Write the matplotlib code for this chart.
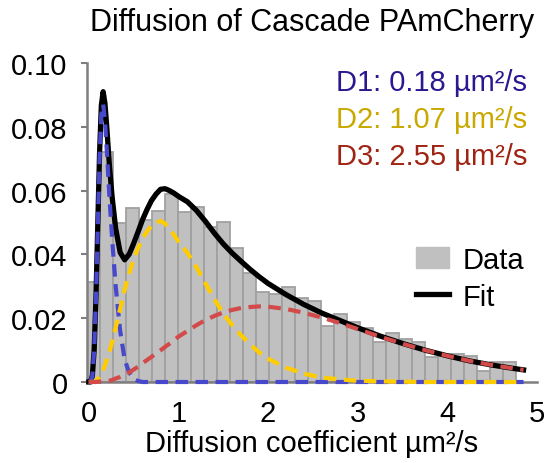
import numpy as np
import matplotlib
matplotlib.use("Agg")
import matplotlib.pyplot as plt
from matplotlib.patches import Patch
from matplotlib.lines import Line2D

plt.rcParams['font.family'] = ['Liberation Sans', 'DejaVu Sans']

# histogram of the diffusion coefficients (fraction per bin)
data_counts = [0.0313, 0.0720, 0.0499, 0.0546, 0.0509, 0.0535, 0.0590, 0.0532,
               0.0549, 0.0485, 0.0502, 0.0421, 0.0343, 0.0282, 0.0275, 0.0299,
               0.0262, 0.0255, 0.0176, 0.0212, 0.0188, 0.0170, 0.0124, 0.0153,
               0.0135, 0.0125, 0.0077, 0.0088, 0.0088, 0.0082, 0.0035, 0.0063,
               0.0063]

# fitted curves
fit_x = [0, 0.02, 0.04, 0.06, 0.08, 0.10, 0.12, 0.14, 0.16, 0.18, 0.20,
         0.23, 0.26, 0.30, 0.35, 0.40, 0.45, 0.50, 0.55, 0.60,
         0.65, 0.70, 0.75, 0.80, 0.85, 0.90, 0.95,
         1.0, 1.1, 1.2, 1.3, 1.4, 1.5, 1.6, 1.7, 1.8, 1.9, 2.0,
         2.2, 2.4, 2.6, 2.8, 3.0, 3.25, 3.5, 3.75, 4.0, 4.25, 4.5, 4.75, 4.85]

fit_total = [0, 0, 0.0020, 0.0101, 0.0264, 0.0490, 0.0717, 0.0867, 0.0910, 0.0874, 0.0801,
             0.0679, 0.0581, 0.0481, 0.0406, 0.0383, 0.0400, 0.0434, 0.0471, 0.0509,
             0.0541, 0.0569, 0.0589, 0.0604, 0.0606, 0.0600, 0.0592,
             0.0582, 0.0565, 0.0538, 0.0504, 0.0467, 0.0433, 0.0404, 0.0378, 0.0353,
             0.0330, 0.0309,
             0.0274, 0.0243, 0.0216, 0.0193, 0.0170, 0.0144, 0.0121, 0.0100, 0.0082,
             0.0066, 0.0053, 0.0042, 0.0038]

d1_curve = [0, 0, 0.002, 0.010, 0.026, 0.048, 0.070, 0.084, 0.087, 0.082, 0.073,
            0.058, 0.045, 0.030, 0.016, 0.007, 0.003, 0.001, 0.0003, 0,
            0, 0, 0, 0, 0, 0, 0,
            0, 0, 0, 0, 0, 0, 0, 0, 0, 0, 0,
            0, 0, 0, 0, 0, 0, 0, 0, 0, 0, 0, 0, 0]

d2_curve = [0, 0, 0, 0.0001, 0.0004, 0.0009, 0.0016, 0.0026, 0.0038, 0.0052, 0.0068,
            0.0095, 0.0125, 0.0170, 0.0230, 0.0290, 0.0340, 0.0385, 0.0420, 0.0450,
            0.0472, 0.0490, 0.0500, 0.0505, 0.0497, 0.0480, 0.0461,
            0.0440, 0.0405, 0.0360, 0.0310, 0.0260, 0.0215, 0.0178, 0.0146, 0.0118,
            0.0093, 0.0073,
            0.0045, 0.0026, 0.0014, 0.0008, 0.0004, 0.0002, 0.0001, 0, 0, 0, 0, 0, 0]

d3_curve = [0, 0, 0, 0, 0, 0.0001, 0.0001, 0.0001, 0.0002, 0.0002, 0.0003,
            0.0004, 0.0006, 0.0011, 0.0016, 0.0023, 0.0030, 0.0039, 0.0048, 0.0059,
            0.0069, 0.0079, 0.0089, 0.0099, 0.0110, 0.0120, 0.0131,
            0.0142, 0.0160, 0.0178, 0.0194, 0.0207, 0.0218, 0.0226, 0.0232, 0.0235,
            0.0237, 0.0236,
            0.0229, 0.0217, 0.0202, 0.0185, 0.0166, 0.0142, 0.0120, 0.0100, 0.0082,
            0.0066, 0.0053, 0.0042, 0.0038]

d_labels = ['D1: 0.18 µm²/s', 'D2: 1.07 µm²/s', 'D3: 2.55 µm²/s']
d_colors = ['#2a1890', '#c9a800', '#a02414']
ytick_vals = [0, 0.02, 0.04, 0.06, 0.08, 0.10]
ytick_labels = ['0', '0.02', '0.04', '0.06', '0.08', '0.10']
xtick_vals = [0, 1, 2, 3, 4, 5]

fig = plt.figure(figsize=(5.46, 4.64), dpi=100)
ax = fig.add_axes([87 / 546, 81 / 464, 450 / 546, 319 / 464])

bin_width = 0.145
bin_left = -0.02 + bin_width * np.arange(len(data_counts))
ax.bar(bin_left, data_counts, width=bin_width, align='edge', color='#c0c0c0',
       edgecolor='#a0a0a0', linewidth=1.3, zorder=1)

ax.plot(fit_x, fit_total, color='black', lw=3.8, zorder=3, clip_on=False,
        solid_joinstyle='round')
ax.plot(fit_x, d1_curve, color='#4848cc', lw=3, dashes=(3, 1.8), zorder=4, clip_on=False)
ax.plot(fit_x, d2_curve, color='#ffcc00', lw=3, dashes=(3, 1.8), zorder=5, clip_on=False)
ax.plot(fit_x, d3_curve, color='#d24a4a', lw=3, dashes=(3, 1.8), zorder=6, clip_on=False)

ax.set_xlim(-0.02, 5.0)
ax.set_ylim(0, 0.10)
ax.set_xticks(xtick_vals)
ax.set_yticks(ytick_vals)
ax.set_yticklabels(ytick_labels)
ax.tick_params(axis='y', length=4, width=1.5, color='#7f7f7f', pad=10, labelsize=21)
ax.tick_params(axis='x', length=0, pad=12, labelsize=21)
for side in ['top', 'right']:
    ax.spines[side].set_visible(False)
for side in ['left', 'bottom']:
    ax.spines[side].set_color('#7f7f7f')
    ax.spines[side].set_linewidth(1.8)
    ax.spines[side].set_zorder(2)

ax.set_title('Diffusion of Cascade PAmCherry', fontsize=22, pad=24)
ax.set_xlabel('Diffusion coefficient µm²/s', fontsize=21, labelpad=2)

# component labels
label_y = [0.916, 0.798, 0.683]
for txt, col, yy in zip(d_labels, d_colors, label_y):
    ax.text(0.978, yy, txt, color=col, fontsize=21, ha='right', va='baseline',
            transform=ax.transAxes)

handles = [Patch(facecolor='#c0c0c0', edgecolor='#c0c0c0', label='Data'),
           Line2D([], [], color='black', lw=3.8, label='Fit')]
ax.legend(handles=handles, loc='upper left', bbox_to_anchor=(416 / 546, 1 - 247 / 464),
          bbox_transform=fig.transFigure, frameon=False, fontsize=21, borderpad=0,
          handlelength=1.14, handleheight=0.74, handletextpad=0.45, labelspacing=0.3,
          borderaxespad=0)

fig.savefig('out.png', dpi=100)
